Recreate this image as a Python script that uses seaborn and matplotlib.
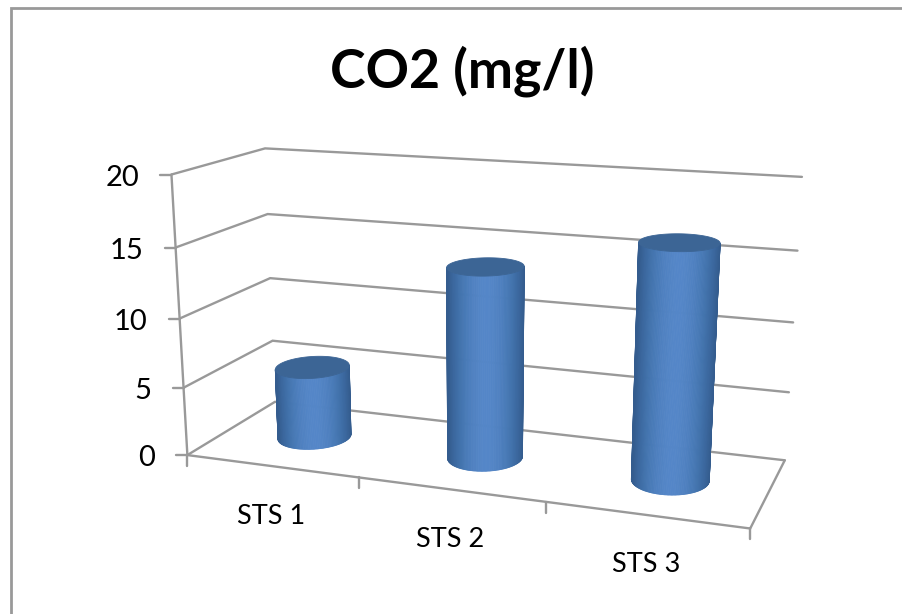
import numpy as np
import matplotlib
matplotlib.use('Agg')
import matplotlib.pyplot as plt
from matplotlib.collections import PolyCollection
from matplotlib.patches import Polygon
import seaborn as sns

# data
categories = ['STS 1', 'STS 2', 'STS 3']
co2_values = [5.3, 13.75, 16.35]
y_ticks = [0, 5, 10, 15, 20]

sns.set_theme(style='white')
plt.rcParams['font.family'] = ['Lato', 'DejaVu Sans']

fig = plt.figure(figsize=(9.02, 6.14), dpi=100)

# seaborn works out bar positions and heights on a flat hidden axes,
# the cylinders below are built from those bars
flat_ax = fig.add_axes([0, 0, 0.1, 0.1], visible=False)
sns.barplot(x=categories, y=co2_values, width=0.39, ax=flat_ax)
bars = flat_ax.patches

ax = fig.add_axes([0, 0, 1, 1])
ax.set_xlim(0, 902)
ax.set_ylim(614, 0)
ax.axis('off')

# camera: box corners (category, depth, value) -> picture position
box = np.array([[0, 0, 0], [0, 0, 20], [0, 1, 0], [0, 1, 20],
                [3, 1, 0], [3, 1, 20], [3, 0, 0],
                [0, 1, 10], [3, 1, 10]], dtype=float)
pic = np.array([[188, 456], [171, 174], [274, 401], [265, 149],
                [785, 461], [802, 177], [750, 528],
                [271, 278], [793, 322]], dtype=float)
rows, rhs = [], []
for (a, b, c), (u, v) in zip(box, pic):
    rows.append([a, b, c, 1, 0, 0, 0, 0, -u * a, -u * b, -u * c])
    rows.append([0, 0, 0, 0, a, b, c, 1, -v * a, -v * b, -v * c])
    rhs += [u, v]
cam = np.linalg.lstsq(np.array(rows), np.array(rhs), rcond=None)[0]
cam = np.append(cam, 1).reshape(3, 4)


def project(x, y, z):
    x, y, z = np.broadcast_arrays(np.asarray(x, float), np.asarray(y, float), np.asarray(z, float))
    pts = cam @ np.stack([x, y, z, np.ones_like(x)])
    return pts[0] / pts[2], pts[1] / pts[2]


line_kw = dict(color='#999999', lw=1.7, solid_capstyle='round', solid_joinstyle='miter')

# outer chart frame
ax.plot([10.5, 10.5, 902], [614, 8, 8], color='#999999', lw=2, solid_joinstyle='miter')

# gridlines on side and back walls, floor, value axis
for t in y_ticks:
    px, py = project([0, 0, 3], [0, 1, 1], [t, t, t])
    ax.plot(px, py, **line_kw)
    ax.plot([px[0] - 11, px[0]], [py[0], py[0]], **line_kw)
    ax.text(px[0] - 32, py[0] + 3, str(t), ha='right', va='center', fontsize=21, color='black')

px, py = project([0, 3, 3], [0, 0, 1], [0, 0, 0])
ax.plot(px, py, **line_kw)
px, py = project([0, 0], [0, 0], [0, 20])
ax.plot(px, py, **line_kw)

# category ticks and labels
for i in range(len(categories) + 1):
    px, py = project(i, 0, 0)
    ax.plot([px, px], [py, py + 11], **line_kw)
for i, name in enumerate(categories):
    px, py = project(i + 0.5, 0, 0)
    ax.text(px, py + 50, name, ha='center', va='center', fontsize=19.5, color='black')

# cylinders
shade = sns.blend_palette(['#345c8e', '#4273ad', '#5587c9'], n_colors=60)
cap_color = '#3c6595'
depth_mid = 0.51
depth_radius = 0.22
full = np.linspace(-np.pi / 2, 3 * np.pi / 2, 361)
n_strips = 90


def front_arc(cx, radius, level):
    # front rim between its left and right extremes as they fall in the picture
    px, _ = project(cx + radius * np.cos(full), depth_mid - depth_radius * np.sin(full), level)
    angles = np.linspace(full[np.argmax(px)], full[np.argmin(px)], n_strips + 1)
    return project(cx + radius * np.cos(angles), depth_mid - depth_radius * np.sin(angles), level)


for bar in bars:
    cx = bar.get_x() + bar.get_width() / 2 + 0.5
    radius = bar.get_width() / 2
    height = bar.get_height()

    bx, by = front_arc(cx, radius, 0)
    tx, ty = front_arc(cx, radius, height)
    quads, colors = [], []
    for k in range(n_strips):
        quads.append([(bx[k], by[k]), (bx[k + 1], by[k + 1]), (tx[k + 1], ty[k + 1]), (tx[k], ty[k])])
        light = 1 - abs(np.cos(np.pi * (k + 0.5) / n_strips)) ** 1.8
        colors.append(shade[int(light * 59)])
    ax.add_collection(PolyCollection(quads, facecolors=colors, edgecolors=colors, linewidths=0.6, zorder=3))

    cap_x, cap_y = project(cx + radius * np.cos(full), depth_mid + depth_radius * np.sin(full), height)
    ax.add_patch(Polygon(np.column_stack([cap_x, cap_y]), closed=True, facecolor=cap_color,
                         edgecolor=cap_color, lw=0.6, zorder=4))

ax.text(462, 71, 'CO2 (mg/l)', ha='center', va='center', fontsize=38.7, fontweight='bold', color='black')

fig.savefig('out.png', dpi=100)
